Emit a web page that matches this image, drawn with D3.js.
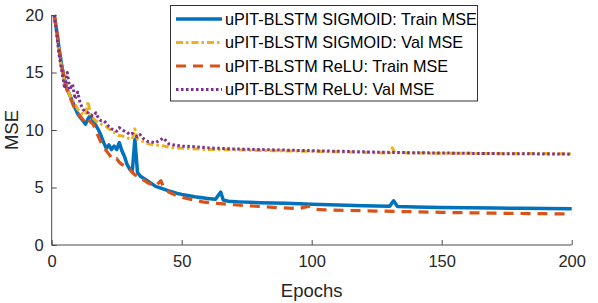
<!DOCTYPE html>
<html><head><meta charset="utf-8">
<script src="https://cdn.jsdelivr.net/npm/d3@7"></script>
<style>body{margin:0;background:#fff}svg{display:block;font-family:"Liberation Sans",Arial,sans-serif}</style>
</head><body><svg id="c" width="598" height="303"></svg>
<script>
// ---- data ----
const xTicks = [0, 50, 100, 150, 200];
const yTicks = [0, 5, 10, 15, 20];
const seriesNames = ["uPIT-BLSTM SIGMOID: Train MSE","uPIT-BLSTM SIGMOID: Val MSE","uPIT-BLSTM ReLU: Train MSE","uPIT-BLSTM ReLU: Val MSE"];

const sigTrainEpochs = [1,2,3,4,5,6,7,8,9,10,11,12,13,14,15,16,17,18,19,20,21,22,23,24,25,26,27,28,29,30,31,32,33,34,36,38,40,42,45,48,50,55,60,63,65,66,68,72,80,90,100,110,120,130,131.5,133,140,150,160,170,180,190,200];
const sigTrainMSE    = [20,18.5,16.8,15.4,14.3,13.5,13.0,12.5,11.9,11.4,11.1,10.8,10.5,11.0,11.3,10.7,10.4,10.0,9.5,8.9,8.4,8.7,8.3,8.6,8.3,8.9,8.2,7.7,7.0,6.6,6.4,9.2,6.3,6.0,5.7,5.4,5.1,4.95,4.7,4.5,4.4,4.2,4.05,3.97,4.6,3.9,3.8,3.75,3.68,3.62,3.55,3.48,3.42,3.36,3.85,3.34,3.3,3.27,3.24,3.22,3.19,3.17,3.15];

const sigValEpochs = [1,2,3,4,5,6,7,8,9,10,11,12,13,14,15,16,17,18,19,20,21,22,23,24,25,26,27,28,29,30,31,32,33,34,36,38,40,43,47,52,60,70,80,90,100,110,120,130,131,132,140,150,160,170,180,190,200];
const sigValMSE    = [20,18.3,16.5,15.2,14.2,13.5,13.0,12.6,12.2,11.8,11.6,11.4,11.3,12.5,11.2,11.0,10.8,10.7,10.5,10.4,10.3,10.1,9.9,9.8,9.6,9.5,9.5,9.4,9.3,9.25,9.2,10.1,9.2,9.1,8.9,8.75,8.7,8.6,8.45,8.4,8.3,8.28,8.22,8.18,8.15,8.1,8.05,8.0,8.45,8.02,8.0,7.98,7.97,7.96,7.95,7.95,7.93];

const reluTrainEpochs = [1,2,3,4,5,6,7,8,9,10,11,12,13,14,15,16,17,18,19,20,21,22,23,24,25,26,27,28,29,30,31,32,33,35,37,40,42,43,45,48,51,55,58,62,66,70,75,80,87,95,99,101,105,115,125,137,150,160,170,180,190,200];
const reluTrainMSE    = [20,18.6,16.9,15.5,14.2,13.4,12.9,12.3,11.8,11.5,11.2,10.9,10.6,10.9,10.7,10.5,9.9,9.4,8.9,8.5,8.2,7.9,7.6,7.4,7.5,7.2,7.0,6.9,6.8,6.6,6.3,6.1,6.0,5.7,5.4,5.15,5.6,5.0,4.6,4.3,4.1,3.9,3.75,3.65,3.58,3.5,3.42,3.35,3.25,3.17,3.38,3.1,3.06,3.0,2.95,2.9,2.84,2.8,2.77,2.74,2.72,2.7];

const reluValEpochs = [1,2,3,4,5,6,7,8,9,10,11,12,13,14,15,16,17,18,19,20,21,22,23,24,25,26,27,28,29,30,31,32,33,34,35,37,40,43,45,47,50,55,60,70,80,90,100,110,120,130,140,150,160,170,180,190,200];
const reluValMSE    = [20,18.2,16.3,15.0,13.6,15.0,13.5,14.0,12.7,13.3,12.3,11.8,11.6,11.5,11.3,11.2,11.5,11.0,10.8,10.8,10.6,10.3,10.1,10.0,9.9,10.2,10.0,9.9,9.8,9.6,9.7,9.5,9.4,9.6,9.3,9.0,8.9,9.3,8.8,8.7,8.6,8.55,8.45,8.35,8.3,8.25,8.2,8.15,8.1,8.05,8.02,8.0,7.97,7.95,7.93,7.92,7.9];

// ---- chart ----
const svg = d3.select("#c");
const x = d3.scaleLinear().domain([0,200]).range([51.7,571.7]);
const y = d3.scaleLinear().domain([0,20]).range([245,15]);
const axisCol = "#4a4a4a";

const series = [
  {ep: sigTrainEpochs, v: sigTrainMSE, color:"#0072BD", w:3.5, dash:null},
  {ep: sigValEpochs, v: sigValMSE, color:"#EDB120", w:3, dash:"7,3,2.5,3"},
  {ep: reluTrainEpochs, v: reluTrainMSE, color:"#D95319", w:3.2, dash:"10,7"},
  {ep: reluValEpochs, v: reluValMSE, color:"#7E2F8E", w:3, dash:"2.5,2.5"}
];

svg.append("clipPath").attr("id","pc").append("rect")
  .attr("x",51.7).attr("y",13).attr("width",522).attr("height",234);

const line = d3.line().x(d=>x(d[0])).y(d=>y(d[1]));
series.forEach(s=>{
  svg.append("path")
    .datum(s.ep.map((e,j)=>[e, s.v[j]]))
    .attr("d", line)
    .attr("fill","none")
    .attr("stroke", s.color)
    .attr("stroke-width", s.w)
    .attr("stroke-dasharray", s.dash)
    .attr("stroke-linejoin","round")
    .attr("clip-path","url(#pc)");
});

// axes
const gx = svg.append("g").attr("transform","translate(0,245)")
  .call(d3.axisBottom(x).tickValues(xTicks).tickSize(-5).tickPadding(10).tickFormat(d3.format("d")));
const gy = svg.append("g").attr("transform","translate(51.7,0)")
  .call(d3.axisLeft(y).tickValues(yTicks).tickSize(-5).tickPadding(8).tickFormat(d3.format("d")));
[gx,gy].forEach(g=>{
  g.select(".domain").attr("stroke",axisCol).attr("stroke-width",1);
  g.selectAll(".tick line").attr("stroke",axisCol).attr("stroke-width",1);
  g.selectAll(".tick text").attr("fill","#262626").style("font-size","16.5px").style("font-family","'Liberation Sans',Arial,sans-serif");
});
gx.select(".domain").attr("d","M51.7,0H571.7");
gy.select(".domain").attr("d","M0,245V15");

svg.append("text").attr("x",311.7).attr("y",297).attr("text-anchor","middle")
  .attr("fill","#262626").style("font-size","18.5px").text("Epochs");
svg.append("text").attr("transform","translate(18,130) rotate(-90)").attr("text-anchor","middle")
  .attr("fill","#262626").style("font-size","18.5px").text("MSE");

// legend
const lg = svg.append("g");
lg.append("rect").attr("x",170.5).attr("y",5.5).attr("width",307).attr("height",95.5)
  .attr("fill","#fff").attr("stroke","#333").attr("stroke-width",1);
const rowY = [19, 42.5, 66, 89.5];
series.forEach((s,i)=>{
  lg.append("line").attr("x1",176).attr("x2",222).attr("y1",rowY[i]).attr("y2",rowY[i])
    .attr("stroke",s.color).attr("stroke-width",s.w).attr("stroke-dasharray",s.dash);
  lg.append("text").attr("x",225).attr("y",rowY[i]).attr("dy","0.35em")
    .attr("fill","#000").style("font-size","16.2px").text(seriesNames[i]);
});
</script></body></html>
